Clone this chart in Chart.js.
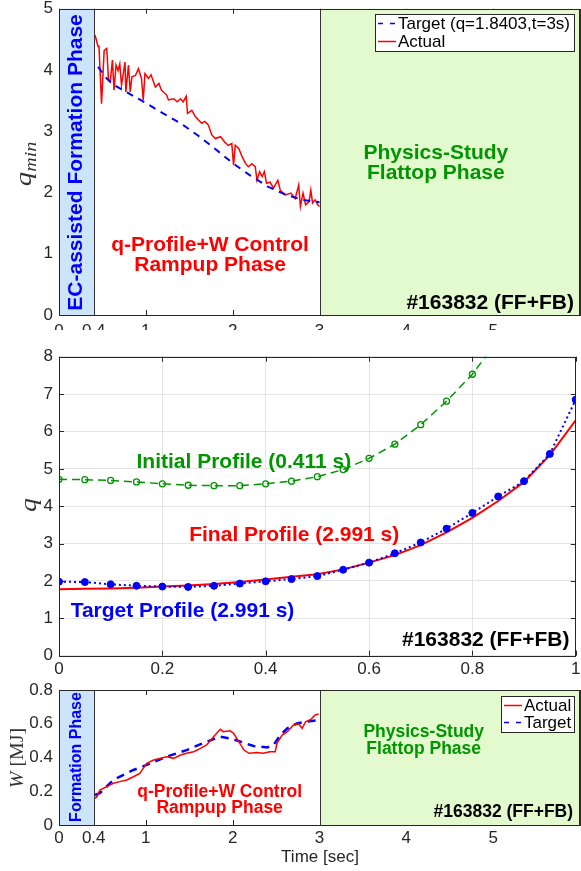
<!DOCTYPE html>
<html><head><meta charset="utf-8">
<script src="https://cdn.jsdelivr.net/npm/chart.js@4.4.1/dist/chart.umd.min.js"></script>
<style>
html,body{margin:0;padding:0;background:#fff;}
#wrap{position:relative;width:581px;height:871px;overflow:hidden;background:#fff;}
canvas{position:absolute;left:0;}
</style></head><body>
<div id="wrap">
<canvas id="c1" width="581" height="330" style="top:0px"></canvas>
<canvas id="c2" width="581" height="350" style="top:330px"></canvas>
<canvas id="c3" width="581" height="191" style="top:680px"></canvas>
</div>
<script>
// ---------- data ----------
const timeTicks = [0, 0.4, 1, 2, 3, 4, 5];
const qminTicks = [0, 1, 2, 3, 4, 5];
const rhoTicks = [0, 0.2, 0.4, 0.6, 0.8, 1];
const qTicks = [0, 1, 2, 3, 4, 5, 6, 7, 8];
const wTicks = [0, 0.2, 0.4, 0.6, 0.8];

const qminTime = [0.415,0.45,0.46,0.49,0.52,0.55,0.57,0.59,0.615,0.634,0.657,0.68,0.70,0.72,0.76,0.77,0.80,0.82,0.84,0.88,0.915,0.95,0.97,0.99,1.03,1.06,1.11,1.15,1.18,1.24,1.26,1.32,1.36,1.40,1.43,1.465,1.48,1.53,1.57,1.61,1.645,1.68,1.72,1.76,1.80,1.86,1.91,1.95,1.99,2.01,2.03,2.07,2.11,2.15,2.18,2.22,2.26,2.28,2.31,2.34,2.365,2.39,2.43,2.47,2.52,2.55,2.61,2.67,2.72,2.76,2.78,2.81,2.84,2.88,2.90,2.92,2.95,2.98,3.0];
const qminActual = [4.57,4.38,4.40,3.45,4.32,4.35,3.83,3.80,4.16,3.67,4.08,3.99,4.10,3.75,4.13,3.64,4.08,3.64,3.89,3.91,4.02,3.86,3.51,3.94,3.86,3.92,3.72,3.78,3.67,3.59,3.51,3.53,3.48,3.53,3.48,3.57,3.29,3.34,3.24,3.18,3.13,3.16,3.10,2.94,2.88,2.91,2.82,2.77,2.80,2.45,2.77,2.72,2.58,2.47,2.42,2.47,2.42,2.20,2.34,2.26,2.34,2.15,2.17,2.07,2.20,2.03,1.96,1.99,1.90,2.12,1.77,1.99,1.80,1.85,2.04,1.83,1.88,1.80,1.77];
const qminTargetTime = [0.45,0.55,0.65,0.8,1.0,1.2,1.4,1.6,1.8,2.0,2.2,2.4,2.6,2.8,3.0];
const qminTarget = [4.05,3.86,3.74,3.62,3.46,3.29,3.13,2.93,2.71,2.48,2.28,2.10,1.97,1.88,1.84];

const rho = [0,0.05,0.1,0.15,0.2,0.25,0.3,0.35,0.4,0.45,0.5,0.55,0.6,0.65,0.7,0.75,0.8,0.85,0.9,0.95,1.0];
const qInitial = [4.72,4.71,4.69,4.65,4.60,4.56,4.55,4.55,4.60,4.67,4.79,4.98,5.28,5.66,6.18,6.81,7.53,8.45];
const qFinal = [1.78,1.79,1.80,1.82,1.85,1.88,1.92,1.97,2.04,2.11,2.18,2.31,2.49,2.69,2.96,3.30,3.69,4.14,4.65,5.37,6.30];
const qTarget = [1.98,1.97,1.91,1.87,1.85,1.84,1.87,1.93,1.99,2.05,2.13,2.30,2.49,2.74,3.03,3.40,3.82,4.26,4.67,5.40,6.85];

const wTime = [0.415,0.44,0.47,0.55,0.626,0.70,0.78,0.857,0.93,0.97,1.01,1.09,1.17,1.24,1.32,1.40,1.47,1.55,1.63,1.70,1.78,1.857,1.89,1.97,2.01,2.07,2.13,2.19,2.28,2.35,2.43,2.49,2.51,2.57,2.63,2.70,2.76,2.80,2.84,2.90,2.95,2.99];
const wActual = [0.158,0.17,0.207,0.227,0.247,0.257,0.267,0.286,0.306,0.336,0.366,0.385,0.395,0.405,0.395,0.415,0.425,0.434,0.454,0.474,0.523,0.567,0.553,0.559,0.543,0.494,0.444,0.425,0.429,0.425,0.434,0.434,0.484,0.533,0.553,0.593,0.60,0.573,0.612,0.626,0.652,0.658];
const wTargetTime = [0.415,0.47,0.626,0.857,1.01,1.24,1.47,1.70,1.857,1.97,2.09,2.24,2.40,2.47,2.55,2.63,2.74,2.85,2.99];
const wTarget = [0.178,0.188,0.267,0.326,0.356,0.405,0.444,0.494,0.523,0.513,0.494,0.468,0.46,0.474,0.533,0.573,0.602,0.612,0.622];

// ---------- styling ----------
const SANS = '"Liberation Sans", Arial, Helvetica, sans-serif';
const SERIF = '"Liberation Serif", "DejaVu Serif", serif';
const AX = '#262626';
const BLUE = '#0000ff', RED = '#ff0000', GREEN = '#009600';
const BAND_BLUE = 'rgb(204,228,252)', BAND_GREEN = 'rgb(227,250,207)';

function pts(xs, ys) { return ys.map((y, i) => ({ x: xs[i], y })); }

const matlab = {
  id: 'matlab',
  beforeDraw(chart) {
    const c = chart.ctx; c.save(); c.fillStyle = '#fff'; c.fillRect(0, 0, chart.width, chart.height); c.restore();
  },
  beforeDatasetsDraw(chart, args, o) {
    const { ctx, chartArea: a, scales: { x, y } } = chart;
    ctx.save();
    ctx.strokeStyle = AX; ctx.lineWidth = 1; ctx.beginPath();
    const L = 5;
    x.ticks.forEach(t => { const p = Math.round(x.getPixelForValue(t.value)) + 0.5; ctx.moveTo(p, a.bottom); ctx.lineTo(p, a.bottom - L); ctx.moveTo(p, a.top); ctx.lineTo(p, a.top + L); });
    y.ticks.forEach(t => { const p = Math.round(y.getPixelForValue(t.value)) + 0.5; ctx.moveTo(a.left, p); ctx.lineTo(a.left + L, p); ctx.moveTo(a.right, p); ctx.lineTo(a.right - L, p); });
    ctx.stroke();
    (o.bands || []).forEach(b => {
      const x0 = Math.round(x.getPixelForValue(b.from)), x1 = Math.round(x.getPixelForValue(b.to));
      ctx.fillStyle = b.color; ctx.fillRect(x0, a.top, x1 - x0, a.bottom - a.top);
      ctx.strokeStyle = '#333'; ctx.lineWidth = 1;
      ctx.strokeRect(x0 + 0.5, Math.round(a.top) + 0.5, x1 - x0, Math.round(a.bottom - a.top));
    });
    ctx.restore();
  },
  afterDatasetsDraw(chart, args, o) {
    const { ctx, chartArea: a, scales: { x, y } } = chart;
    ctx.save();
    ctx.strokeStyle = AX; ctx.lineWidth = 1;
    ctx.strokeRect(Math.round(a.left) + 0.5, Math.round(a.top) + 0.5, Math.round(a.right - a.left) - 1, Math.round(a.bottom - a.top));
    (o.texts || []).forEach(t => {
      const px = x.getPixelForValue(t.x), py = y.getPixelForValue(t.y);
      ctx.save(); ctx.font = t.font; ctx.fillStyle = t.color; ctx.textBaseline = 'middle'; ctx.textAlign = t.align || 'center';
      ctx.translate(px, py); if (t.rotate) ctx.rotate(-Math.PI / 2);
      t.lines.forEach((s, i) => ctx.fillText(s, 0, i * (t.lh || 0)));
      ctx.restore();
    });
    if (o.legend) {
      const g = o.legend;
      const items = g.order.map(i => chart.data.datasets[i]);
      ctx.font = g.font;
      const tw = Math.max(...items.map(it => ctx.measureText(it.label).width));
      const w = g.padL + g.sample + g.gap + tw + g.padR, h = items.length * g.rowH + g.padT * 2;
      const bx = Math.round(a.right - g.right - w), by = Math.round(a.top + g.top);
      ctx.fillStyle = '#fff'; ctx.fillRect(bx, by, w, h);
      ctx.strokeStyle = AX; ctx.lineWidth = 1; ctx.strokeRect(bx + 0.5, by + 0.5, Math.round(w), Math.round(h));
      items.forEach((it, i) => {
        const cy = by + g.padT + g.rowH * (i + 0.5);
        ctx.strokeStyle = it.borderColor; ctx.lineWidth = 1.5; ctx.setLineDash(it.legendDash || []);
        ctx.beginPath(); ctx.moveTo(bx + g.padL, cy); ctx.lineTo(bx + g.padL + g.sample, cy); ctx.stroke();
        ctx.setLineDash([]);
        ctx.fillStyle = '#000'; ctx.textBaseline = 'middle'; ctx.textAlign = 'left';
        ctx.fillText(it.label, bx + g.padL + g.sample + g.gap, cy + 1);
      });
    }
    (o.titles || []).forEach(t => {
      ctx.save(); ctx.fillStyle = t.color || '#333'; ctx.textBaseline = 'alphabetic'; ctx.textAlign = 'left';
      let total = 0; t.parts.forEach(p => { ctx.font = p.font; p.w = ctx.measureText(p.text).width; total += p.w; });
      ctx.translate(t.x, t.y); if (t.rotate) ctx.rotate(-Math.PI / 2);
      ctx.scale(t.sx || 1, 1);
      let cx = -total / 2;
      t.parts.forEach(p => { ctx.font = p.font; ctx.fillText(p.text, cx, (p.dy || 0)); cx += p.w; });
      ctx.restore();
    });
    ctx.restore();
  }
};

function xScale(min, max, ticksArr, xh, grid, pad) {
  return {
    type: 'linear', min, max,
    afterBuildTicks: s => { s.ticks = ticksArr.map(v => ({ value: v })); },
    afterFit: s => { s.height = xh; s.paddingLeft = 0; s.paddingRight = 0; },
    ticks: { autoSkip: false, maxRotation: 0, padding: pad, color: AX, font: { family: SANS, size: 17 }, callback: v => String(v) },
    grid: { display: grid, color: '#e4e4e4', drawTicks: false, lineWidth: 1 },
    border: { display: false }
  };
}
function yScale(min, max, ticksArr, grid) {
  return {
    type: 'linear', min, max,
    afterBuildTicks: s => { s.ticks = ticksArr.map(v => ({ value: v })); },
    afterFit: s => { s.width = 59; s.paddingTop = 0; s.paddingBottom = 0; },
    ticks: { autoSkip: false, padding: 6, color: AX, font: { family: SANS, size: 17 }, callback: v => String(v) },
    grid: { display: grid, color: '#e4e4e4', drawTicks: false, lineWidth: 1 },
    border: { display: false }
  };
}
const base = { responsive: false, animation: false, devicePixelRatio: 1, events: [] };
const big = 'bold 21px ' + SANS, small = 'bold 17.5px ' + SANS;

// ---------- panel 1: q_min ----------
new Chart(document.getElementById('c1'), {
  type: 'line',
  data: { datasets: [
    { label: 'Target (q=1.8403,t=3s)', data: pts(qminTargetTime, qminTarget), borderColor: BLUE, borderDash: [7, 6], legendDash: [5, 7], borderWidth: 2, pointRadius: 0 },
    { label: 'Actual', data: pts(qminTime, qminActual), borderColor: RED, borderWidth: 1.5, pointRadius: 0 }
  ] },
  options: Object.assign({}, base, {
    layout: { padding: { top: 8.7, right: 1, left: 0, bottom: 0 } },
    plugins: { legend: { display: false }, tooltip: { enabled: false },
      matlab: {
        bands: [{ from: 0, to: 0.4, color: BAND_BLUE }, { from: 3, to: 6, color: BAND_GREEN }],
        texts: [
          { lines: ['EC-assisted Formation Phase'], x: 0.2, y: 2.49, rotate: true, font: big, color: BLUE },
          { lines: ['q-Profile+W Control', 'Rampup Phase'], x: 1.74, y: 1.14, lh: 20, font: big, color: RED },
          { lines: ['Physics-Study', 'Flattop Phase'], x: 4.34, y: 2.64, lh: 20, font: big, color: GREEN },
          { lines: ['#163832 (FF+FB)'], x: 5.93, y: 0.2, align: 'right', font: big, color: '#000' }
        ],
        legend: { order: [0, 1], font: '17px ' + SANS, padL: 3, sample: 18, gap: 2, padR: 4, rowH: 18, padT: 0.5, right: 6, top: 5.3 },
        titles: [{ x: 31, y: 164, rotate: true, sx: 1.25, parts: [{ text: 'q', font: 'italic 23px ' + SERIF }, { text: 'min', font: 'italic 16px ' + SERIF, dy: 5 }] }]
      } },
    scales: { x: xScale(0, 6, timeTicks, 15, false, 6), y: yScale(0, 5, qminTicks, false) }
  }),
  plugins: [matlab]
});

// ---------- panel 2: q profiles ----------
new Chart(document.getElementById('c2'), {
  type: 'line',
  data: { datasets: [
    { label: 'Target Profile', data: pts(rho, qTarget), borderColor: BLUE, borderDash: [2, 3], borderWidth: 2, pointRadius: 3.5, pointBackgroundColor: BLUE, pointBorderColor: BLUE, pointBorderWidth: 1 },
    { label: 'Final Profile', data: pts(rho, qFinal), borderColor: RED, borderWidth: 2, pointRadius: 0 },
    { label: 'Initial Profile', data: pts(rho, qInitial), borderColor: GREEN, borderDash: [8, 5], borderWidth: 1.5, pointRadius: 3, pointBackgroundColor: 'rgba(0,0,0,0)', pointBorderColor: GREEN, pointBorderWidth: 1.3 }
  ] },
  options: Object.assign({}, base, {
    layout: { padding: { top: 26.7, right: 1, left: 0, bottom: 0 } },
    plugins: { legend: { display: false }, tooltip: { enabled: false },
      matlab: {
        texts: [
          { lines: ['Initial Profile (0.411 s)'], x: 0.15, y: 5.19, align: 'left', font: big, color: GREEN },
          { lines: ['Final Profile (2.991 s)'], x: 0.252, y: 3.23, align: 'left', font: big, color: RED },
          { lines: ['Target Profile (2.991 s)'], x: 0.0225, y: 1.18, align: 'left', font: big, color: BLUE },
          { lines: ['#163832 (FF+FB)'], x: 0.988, y: 0.42, align: 'right', font: big, color: '#000' }
        ],
        titles: [{ x: 36, y: 175, rotate: true, sx: 1.2, parts: [{ text: 'q', font: 'italic 23px ' + SERIF }] }]
      } },
    scales: { x: xScale(0, 1, rhoTicks, 24.3, true, 3), y: yScale(0, 8, qTicks, true) }
  }),
  plugins: [matlab]
});

// ---------- panel 3: W ----------
new Chart(document.getElementById('c3'), {
  type: 'line',
  data: { datasets: [
    { label: 'Actual', data: pts(wTime, wActual), borderColor: RED, borderWidth: 1.5, pointRadius: 0 },
    { label: 'Target', data: pts(wTargetTime, wTarget), borderColor: BLUE, borderDash: [8, 6], legendDash: [5, 7], borderWidth: 2.5, pointRadius: 0 }
  ] },
  options: Object.assign({}, base, {
    layout: { padding: { top: 10, right: 1, left: 0, bottom: 0 } },
    plugins: { legend: { display: false }, tooltip: { enabled: false },
      matlab: {
        bands: [{ from: 0, to: 0.4, color: BAND_BLUE }, { from: 3, to: 6, color: BAND_GREEN }],
        texts: [
          { lines: ['Formation Phase'], x: 0.2, y: 0.403, rotate: true, font: 'bold 16px ' + SANS, color: BLUE },
          { lines: ['q-Profile+W Control', 'Rampup Phase'], x: 1.85, y: 0.196, lh: 16, font: small, color: RED },
          { lines: ['Physics-Study', 'Flattop Phase'], x: 4.2, y: 0.551, lh: 17, font: small, color: GREEN },
          { lines: ['#163832 (FF+FB)'], x: 5.92, y: 0.077, align: 'right', font: small, color: '#000' }
        ],
        legend: { order: [0, 1], font: '17px ' + SANS, padL: 3, sample: 18, gap: 2, padR: 3, rowH: 17, padT: 1, right: 6, top: 6 },
        titles: [
          { x: 23, y: 78, rotate: true, sx: 1.05, parts: [{ text: 'W', font: 'italic 19px ' + SERIF }, { text: ' [MJ]', font: '19px ' + SERIF }] },
          { x: 320, y: 182, rotate: false, color: AX, parts: [{ text: 'Time [sec]', font: '17px ' + SANS }] }
        ]
      } },
    scales: { x: xScale(0, 6, timeTicks, 46, false, 3), y: yScale(0, 0.8, wTicks, false) }
  }),
  plugins: [matlab]
});
</script>
</body></html>
